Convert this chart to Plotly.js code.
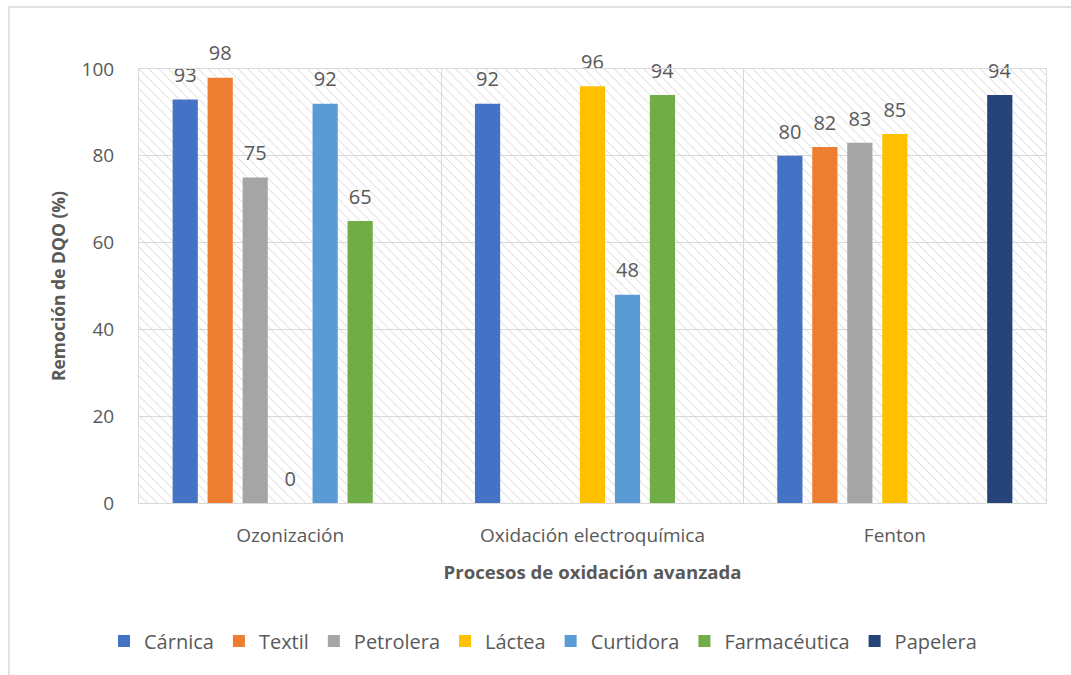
<!DOCTYPE html>
<html><head><meta charset="utf-8">
<script src="https://cdn.plot.ly/plotly-3.0.1.min.js"></script>
<style>html,body{margin:0;padding:0;background:#fff;}#chart{width:1071px;height:675px;}</style>
</head><body><div id="chart"></div>
<script>
const categories = ["Ozonización", "Oxidación electroquímica", "Fenton"];
const seriesNames = ["Cárnica", "Textil", "Petrolera", "Láctea", "Curtidora", "Farmacéutica", "Papelera"];
const carnica = [93, 92, 80];
const textil = [98, null, 82];
const petrolera = [75, null, 83];
const lactea = [0, 96, 85];
const curtidora = [92, 48, null];
const farmaceutica = [65, 94, null];
const papelera = [null, null, 94];
const seriesValues = [carnica, textil, petrolera, lactea, curtidora, farmaceutica, papelera];
const colors = ["#4472C4", "#ED7D31", "#A5A5A5", "#FFC000", "#5B9BD5", "#70AD47", "#264478"];
const yTicks = [0, 20, 40, 60, 80, 100];

const FONT = "Open Sans, Noto Sans, sans-serif";
const GREY = "#595959";
const LABEL_GAP = 1.9; // vertical gap (axis units) between bar top and its value label

const traces = [{
  type: "bar", x: [1.5], y: [100], width: [3], xaxis: "x", yaxis: "y",
  marker: { color: "rgba(0,0,0,0)", line: { width: 0 },
    pattern: { shape: "\\", fgcolor: "#d6d6d6", bgcolor: "rgba(255,255,255,0)", size: 7, solidity: 0.14 } },
  hoverinfo: "skip", showlegend: false
}];
seriesNames.forEach((n, i) => {
  traces.push({
    type: "bar", name: n, x: categories, y: seriesValues[i], xaxis: "x2", yaxis: "y",
    offsetgroup: n, marker: { color: colors[i] }
  });
});
seriesNames.forEach((n, i) => {
  const vals = seriesValues[i];
  traces.push({
    type: "bar", name: n + " label", x: categories,
    base: vals, y: vals.map(v => v === null ? null : LABEL_GAP),
    xaxis: "x2", yaxis: "y", offsetgroup: n, showlegend: false, hoverinfo: "skip",
    marker: { color: "rgba(0,0,0,0)", line: { width: 0 } },
    text: vals.map(v => v === null ? "" : String(v)),
    textposition: "outside", cliponaxis: false, constraintext: "none",
    textfont: { family: FONT, size: 20, color: GREY }
  });
});

const plotL = 139, plotR = 1046, plotT = 69, plotB = 503;
const pw = plotR - plotL, ph = plotB - plotT;

const layout = {
  width: 1071, height: 675,
  margin: { l: plotL, r: 1071 - plotR, t: plotT, b: 675 - plotB, autoexpand: false },
  paper_bgcolor: "#ffffff", plot_bgcolor: "#ffffff",
  barmode: "group", bargap: 0.19, bargroupgap: 0.28,
  font: { family: FONT, color: GREY, size: 20 },
  xaxis: { range: [0, 3], visible: false, fixedrange: true },
  xaxis2: {
    overlaying: "x", type: "category", categoryarray: categories,
    showgrid: true, gridcolor: "#d9d9d9", tickson: "boundaries",
    showline: true, linecolor: "#d9d9d9", mirror: true,
    ticks: "", ticklabelstandoff: 15, tickangle: 0,
    tickfont: { family: FONT, size: 19, color: GREY },
    title: { text: "Procesos de oxidación avanzada", font: { family: FONT, size: 18.6, color: GREY, weight: "bold" }, standoff: 19 }
  },
  yaxis: {
    range: [0, 100], tickvals: yTicks, ticktext: yTicks.map(String),
    showgrid: true, gridcolor: "#d9d9d9", zeroline: false,
    showline: true, linecolor: "#d9d9d9", mirror: true,
    ticks: "outside", ticklen: 20, tickcolor: "rgba(0,0,0,0)",
    tickfont: { family: FONT, size: 19, color: GREY },
    title: { text: "Remoción de DQO (%)", font: { family: FONT, size: 17.5, color: GREY, weight: "bold" }, standoff: 11 }
  },
  showlegend: true,
  legend: {
    orientation: "h", x: (543 - plotL) / pw, xanchor: "center",
    y: -(641 - plotB) / ph, yanchor: "middle",
    font: { family: FONT, size: 20, color: GREY },
    traceorder: "normal"
  },
  shapes: [{
    type: "rect", xref: "paper", yref: "paper", layer: "above",
    x0: (9 - plotL) / pw, x1: (1090 - plotL) / pw,
    y0: -(700 - plotB) / ph, y1: 1 + (plotT - 7) / ph,
    line: { color: "#d9d9d9", width: 1.5 }, fillcolor: "rgba(0,0,0,0)"
  }]
};

Plotly.newPlot("chart", traces, layout, { displayModeBar: false, staticPlot: true });
</script></body></html>
